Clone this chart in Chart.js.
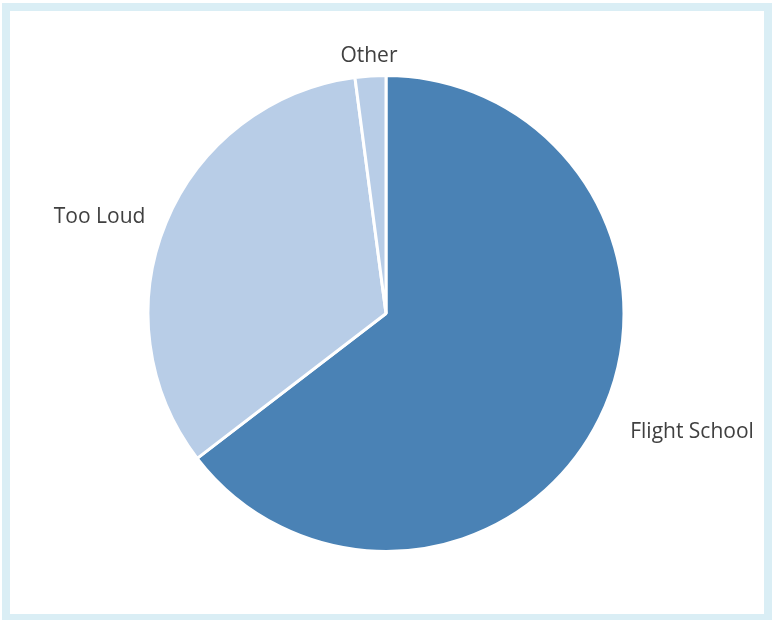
<!DOCTYPE html>
<html>
<head>
<meta charset="utf-8">
<script src="https://cdn.jsdelivr.net/npm/chart.js@4"></script>
<style>
  html, body { margin: 0; padding: 0; background: #ffffff; }
  #frame {
    position: absolute; left: 2px; top: 3px; width: 754px; height: 603px;
    border: 8px solid #DAEEF5; border-bottom-width: 6px;
  }
  #wrap { position: absolute; left: 0; top: 0; width: 772px; height: 622px; }
</style>
</head>
<body>
<div id="frame"></div>
<div id="wrap"><canvas id="c"></canvas></div>
<script>
const categories = ['Flight School', 'Too Loud', 'Other'];
const values = [31, 16, 1];
const colors = ['#4A82B5', '#B8CDE7', '#B8CDE7'];

const outsideLabels = {
  id: 'outsideLabels',
  afterDraw(chart) {
    const ctx = chart.ctx;
    const meta = chart.getDatasetMeta(0);
    ctx.save();
    ctx.font = '21px "Open Sans", Lato, sans-serif';
    ctx.fillStyle = '#404040';
    ctx.textBaseline = 'middle';
    meta.data.forEach((arc, i) => {
      const p = arc.getProps(['x', 'y', 'startAngle', 'endAngle', 'outerRadius'], true);
      const mid = (p.startAngle + p.endAngle) / 2;
      const r = p.outerRadius + 23;
      const cx = Math.cos(mid), cy = Math.sin(mid);
      const text = chart.data.labels[i];
      const w = ctx.measureText(text).width;
      let ax = p.x + cx * r;
      const ay = p.y + cy * r + 3;
      let align = 'center';
      const extra = Math.max(0, 0.3 * w - 27);
      if (cx > 0.15) { align = 'left'; ax += extra; }
      else if (cx < -0.15) { align = 'right'; ax -= extra - 1; }
      ctx.textAlign = align;
      ctx.fillText(text, ax, ay);
    });
    ctx.restore();
  }
};

new Chart(document.getElementById('c'), {
  type: 'pie',
  data: {
    labels: categories,
    datasets: [{
      data: values,
      backgroundColor: colors,
      borderColor: '#ffffff',
      borderWidth: 3
    }]
  },
  options: {
    responsive: true,
    maintainAspectRatio: false,
    animation: false,
    layout: { padding: { top: 74, bottom: 69, left: 0, right: 0 } },
    plugins: {
      legend: { display: false },
      tooltip: { enabled: false }
    }
  },
  plugins: [outsideLabels]
});
</script>
</body>
</html>
